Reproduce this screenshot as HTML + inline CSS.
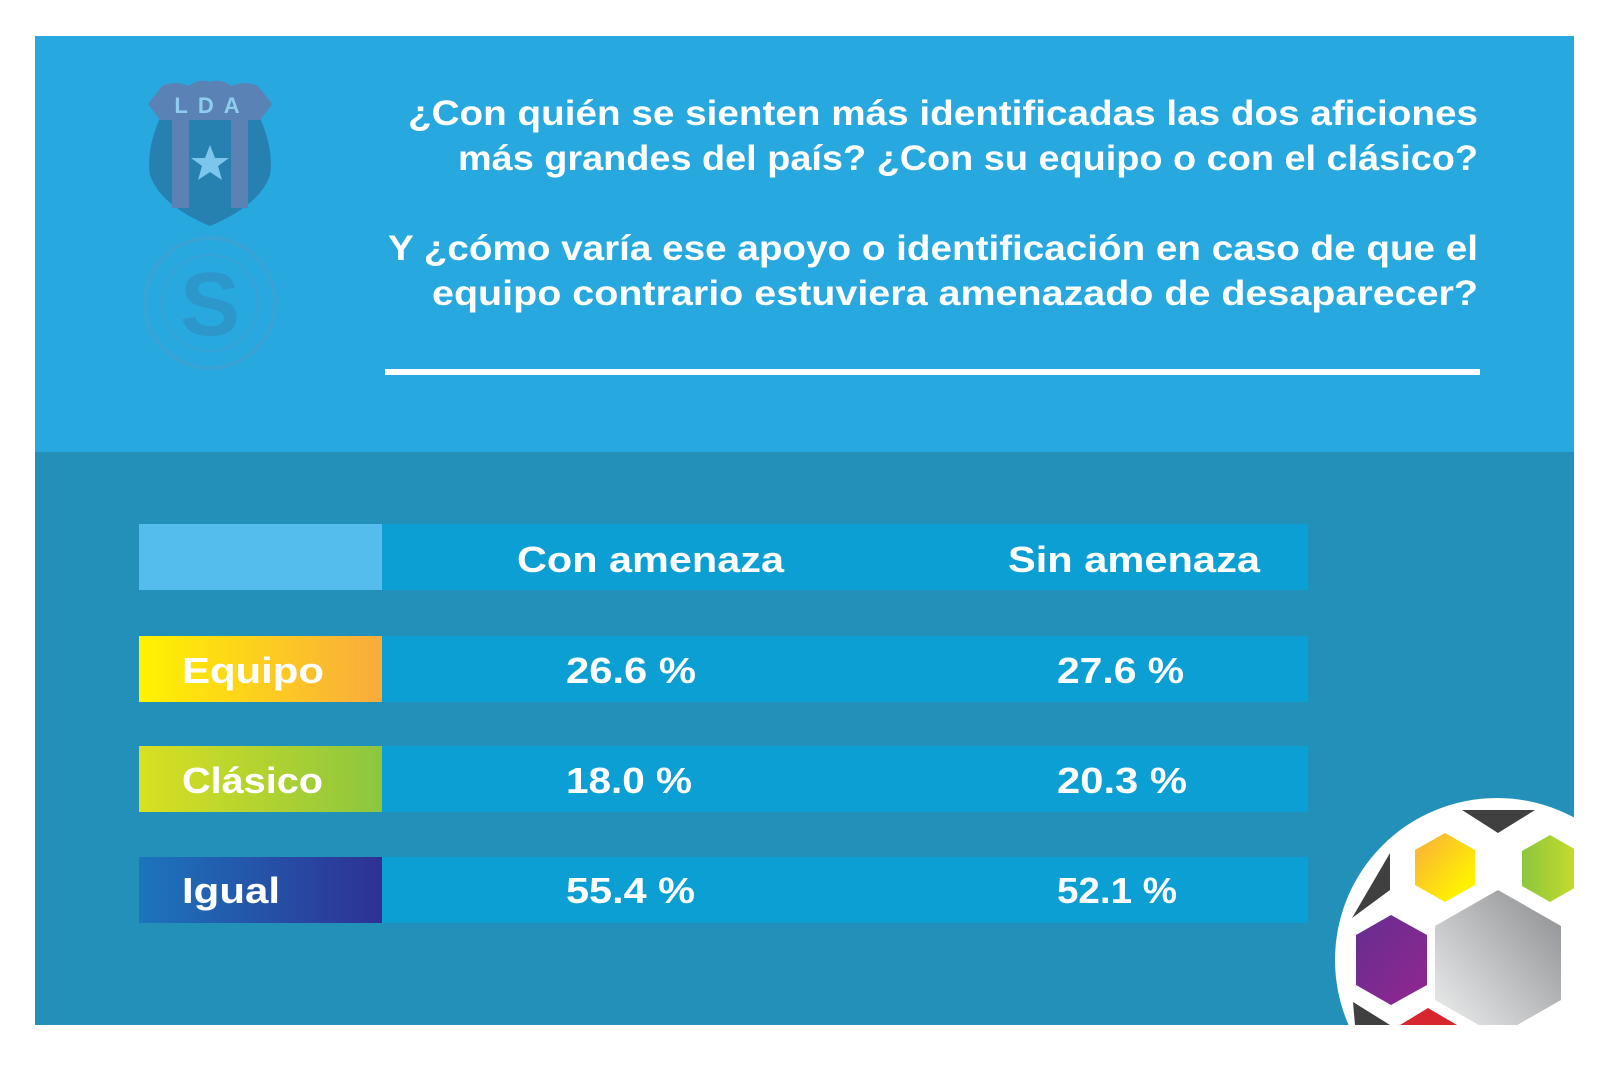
<!DOCTYPE html>
<html><head><meta charset="utf-8"><style>
html,body{margin:0;padding:0;background:#fff;}
svg{display:block;}
text{font-family:"Liberation Sans",sans-serif;font-weight:bold;fill:#fff;}
</style></head><body>
<svg width="1605" height="1071" viewBox="0 0 1605 1071" xmlns="http://www.w3.org/2000/svg">
<defs>
<linearGradient id="gEq" x1="0" x2="1" y1="0" y2="0"><stop offset="0" stop-color="#fff200"/><stop offset="1" stop-color="#f9ab3d"/></linearGradient>
<linearGradient id="gCl" x1="0" x2="1" y1="0" y2="0"><stop offset="0" stop-color="#d9e021"/><stop offset="1" stop-color="#8cc63f"/></linearGradient>
<linearGradient id="gIg" x1="0" x2="1" y1="0" y2="0"><stop offset="0" stop-color="#1c75bc"/><stop offset="1" stop-color="#2e3192"/></linearGradient>
<linearGradient id="hY" x1="0" y1="0" x2="1" y2="1"><stop offset="0" stop-color="#f9ab3d"/><stop offset="0.8" stop-color="#fff200"/></linearGradient>
<linearGradient id="hG" x1="0" y1="0" x2="1" y2="0"><stop offset="0" stop-color="#8cc63f"/><stop offset="1" stop-color="#c8dc2a"/></linearGradient>
<linearGradient id="hP" x1="0" y1="0" x2="1" y2="1"><stop offset="0" stop-color="#662d91"/><stop offset="1" stop-color="#92278f"/></linearGradient>
<linearGradient id="hS" x1="1" y1="0" x2="0" y2="1"><stop offset="0" stop-color="#8a8c8f"/><stop offset="1" stop-color="#f1f2f2"/></linearGradient>
<clipPath id="pc"><rect x="35" y="36" width="1539" height="989"/></clipPath>
</defs>
<rect x="35" y="36" width="1539" height="416" fill="#27a8df"/>
<rect x="35" y="452" width="1539" height="573" fill="#2290b8"/>

<!-- LDA shield -->
<g>
<path d="M148,104 L160,118 Q146,150 150,175 Q160,205 210,226 Q260,205 270,175 Q274,150 260,118 L272,104 Z" fill="#2681b0"/>
<path d="M148,104 L162,86 Q176,80 188,86 Q200,78 210,82 Q220,78 232,86 Q244,80 258,86 L272,104 L260,120 L160,120 Z" fill="#5b82b5"/>
<rect x="172" y="120" width="17" height="88" fill="#5b82b5"/>
<rect x="231" y="120" width="17" height="88" fill="#5b82b5"/>
<text x="212" y="113" text-anchor="middle" font-size="22" letter-spacing="10" style="fill:#8fcdee">LDA</text>
<polygon points="210,145 215,158 229,158 218,166 222,180 210,172 198,180 202,166 191,158 205,158" fill="#7cc6ee"/>
</g>
<!-- Saprissa -->
<circle cx="210" cy="303" r="65" fill="none" stroke="#3aa3d6" stroke-width="4"/>
<circle cx="210" cy="303" r="48" fill="none" stroke="#3aa3d6" stroke-width="2"/>
<text x="210" y="335" text-anchor="middle" font-size="90" style="fill:#2d97cc">S</text>

<!-- title -->
<text x="408" y="125" font-size="35" textLength="1070" lengthAdjust="spacingAndGlyphs">¿Con quién se sienten más identificadas las dos aficiones</text>
<text x="458" y="170" font-size="35" textLength="1020" lengthAdjust="spacingAndGlyphs">más grandes del país? ¿Con su equipo o con el clásico?</text>
<text x="388" y="260" font-size="35" textLength="1090" lengthAdjust="spacingAndGlyphs">Y ¿cómo varía ese apoyo o identificación en caso de que el</text>
<text x="432" y="305" font-size="35" textLength="1046" lengthAdjust="spacingAndGlyphs">equipo contrario estuviera amenazado de desaparecer?</text>
<rect x="385" y="369" width="1095" height="6" fill="#fff"/>

<!-- table -->
<rect x="139" y="524" width="243" height="66" fill="#55bdee"/>
<rect x="382" y="524" width="926" height="66" fill="#0c9fd3"/>
<text x="517" y="572" font-size="36" textLength="267" lengthAdjust="spacingAndGlyphs">Con amenaza</text>
<text x="1008" y="572" font-size="36" textLength="252" lengthAdjust="spacingAndGlyphs">Sin amenaza</text>

<rect x="139" y="636" width="243" height="66" fill="url(#gEq)"/>
<rect x="382" y="636" width="926" height="66" fill="#0c9fd3"/>
<text x="182" y="683" font-size="36" textLength="142" lengthAdjust="spacingAndGlyphs">Equipo</text>
<text x="566" y="683" font-size="36" textLength="130" lengthAdjust="spacingAndGlyphs">26.6 %</text>
<text x="1057" y="683" font-size="36" textLength="127" lengthAdjust="spacingAndGlyphs">27.6 %</text>

<rect x="139" y="746" width="243" height="66" fill="url(#gCl)"/>
<rect x="382" y="746" width="926" height="66" fill="#0c9fd3"/>
<text x="182" y="793" font-size="36" textLength="141" lengthAdjust="spacingAndGlyphs">Clásico</text>
<text x="566" y="793" font-size="36" textLength="126" lengthAdjust="spacingAndGlyphs">18.0 %</text>
<text x="1057" y="793" font-size="36" textLength="130" lengthAdjust="spacingAndGlyphs">20.3 %</text>

<rect x="139" y="857" width="243" height="66" fill="url(#gIg)"/>
<rect x="382" y="857" width="926" height="66" fill="#0c9fd3"/>
<text x="182" y="903" font-size="36" textLength="98" lengthAdjust="spacingAndGlyphs">Igual</text>
<text x="566" y="903" font-size="36" textLength="129" lengthAdjust="spacingAndGlyphs">55.4 %</text>
<text x="1057" y="903" font-size="36" textLength="120" lengthAdjust="spacingAndGlyphs">52.1 %</text>

<!-- ball -->
<g clip-path="url(#pc)">
<circle cx="1497" cy="960" r="162" fill="#fff"/>
<polygon points="1462,810 1535,810 1498,833" fill="#404041"/>
<polygon points="1352,918 1390,853 1390,890" fill="#404041"/>
<polygon points="1353,1002 1390,1025 1355,1025" fill="#404041"/>
<polygon points="1400,1025 1428,1008 1457,1025" fill="#d7262d"/>
<polygon points="1445,833 1475,850 1475,885 1445,902 1415,885 1415,850" fill="url(#hY)"/>
<polygon points="1550,835 1578,851 1578,886 1550,902 1522,886 1522,851" fill="url(#hG)"/>
<polygon points="1391,915 1427,935 1427,985 1391,1005 1356,985 1356,935" fill="url(#hP)"/>
<polygon points="1498,890 1561,926 1561,1000 1498,1036 1435,1000 1435,926" fill="url(#hS)"/>
</g>
</svg>
</body></html>
